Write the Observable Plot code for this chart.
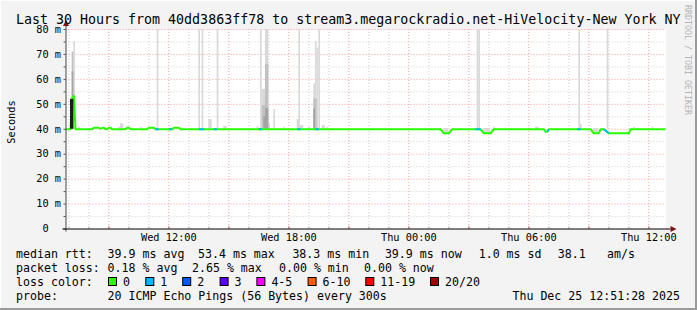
<!DOCTYPE html>
<html><head><meta charset="utf-8">
<script src="https://cdn.jsdelivr.net/npm/d3@7"></script>
<script src="https://cdn.jsdelivr.net/npm/@observablehq/plot@0.6"></script>
<style>
html,body{margin:0;padding:0;background:#f3f3f3;}
#wrap{position:relative;width:697px;height:310px;overflow:hidden;}
#wrap svg{display:block;}
</style></head><body><div id="wrap"></div>
<script>
// ---------- data ----------
const titleText = "Last 30 Hours from 40dd3863ff78 to stream3.megarockradio.net-HiVelocity-New York NY";
const yAxisTitle = "Seconds";
const watermark = "RRDTOOL / TOBI OETIKER";
const rangeStart = "Wed 06:51:28";
const rangeEnd = "Thu 12:51:28";
const xLabelTimes = ["Wed 12:00", "Wed 18:00", "Thu 00:00", "Thu 06:00", "Thu 12:00"];
const yLabelValues = [0, 10, 20, 30, 40, 50, 60, 70, 80];
const yMinorValues = [5, 15, 25, 35, 45, 55, 65, 75];

const medianTimes = ["Wed 06:50","Wed 07:05","Wed 07:10","Wed 07:15","Wed 07:20","Wed 08:10","Wed 08:15","Wed 08:30","Wed 08:35","Wed 08:40","Wed 08:45","Wed 08:50","Wed 08:55","Wed 09:00","Wed 09:05","Wed 09:10","Wed 09:50","Wed 09:55","Wed 10:00","Wed 10:05","Wed 10:55","Wed 11:00","Wed 11:15","Wed 11:20","Wed 12:10","Wed 12:15","Wed 12:30","Wed 12:35","Thu 01:35","Thu 01:45","Thu 02:00","Thu 02:10","Thu 03:35","Thu 03:45","Thu 04:05","Thu 04:15","Thu 06:45","Thu 06:50","Thu 06:55","Thu 07:00","Thu 09:05","Thu 09:15","Thu 09:30","Thu 09:35","Thu 09:45","Thu 10:00","Thu 11:00","Thu 11:05","Thu 12:55"];
const medianValues = [40.0,40.0,52.5,53.4,40.0,40.0,40.6,40.6,40.2,40.6,40.6,40.0,40.0,40.6,40.6,40.0,40.0,40.6,40.6,40.0,40.0,40.6,40.6,40.0,40.0,40.6,40.6,40.0,40.0,38.4,38.4,40.0,40.0,38.4,38.4,40.0,40.0,39.0,39.0,40.0,40.0,38.4,38.4,40.0,40.0,38.4,38.4,40.0,40.0];

const lossStart = ["Wed 11:20","Wed 12:00","Wed 13:30","Wed 14:15","Wed 16:30","Wed 18:25","Wed 19:20","Thu 03:20","Thu 06:55","Thu 08:25","Thu 09:45"];
const lossEnd   = ["Wed 11:30","Wed 12:10","Wed 13:45","Wed 14:25","Wed 16:40","Wed 18:35","Wed 19:30","Thu 03:35","Thu 07:00","Thu 08:35","Thu 10:00"];
const lossFrom  = [40,40,40,40,40,40,40,40,39,40,40];
const lossTo    = [40,40,40,40,40,40,40,40,40,40,38.4];
const lossPings = [1,1,1,1,1,1,1,1,1,1,1];

const smokeStart = ["Wed 07:15","Wed 07:10","Wed 07:10","Wed 07:05","Wed 07:30","Wed 09:05","Wed 09:30","Wed 09:35","Wed 10:35","Wed 11:25","Wed 13:30","Wed 13:40","Wed 14:00","Wed 14:25","Wed 14:45","Wed 16:25","Wed 16:35","Wed 16:40","Wed 16:40","Wed 16:45","Wed 16:50","Wed 16:50","Wed 16:50","Wed 17:00","Wed 17:15","Wed 17:45","Wed 18:25","Wed 18:30","Wed 18:35","Wed 19:00","Wed 19:15","Wed 19:15","Wed 19:15","Wed 19:20","Wed 19:25","Wed 19:30","Wed 19:40","Wed 19:55","Thu 01:45","Thu 03:25","Thu 03:30","Thu 03:45","Thu 04:15","Thu 06:00","Thu 06:20","Thu 08:30","Thu 08:35","Thu 09:15","Thu 09:55","Thu 11:15","Thu 12:10"];
const smokeEnd   = ["Wed 07:20","Wed 07:15","Wed 07:15","Wed 07:15","Wed 07:35","Wed 09:10","Wed 09:35","Wed 09:45","Wed 10:40","Wed 11:30","Wed 13:35","Wed 13:45","Wed 14:10","Wed 14:30","Wed 14:55","Wed 16:30","Wed 16:40","Wed 16:50","Wed 16:50","Wed 16:55","Wed 17:00","Wed 17:00","Wed 17:00","Wed 17:05","Wed 17:20","Wed 17:50","Wed 18:35","Wed 18:35","Wed 18:45","Wed 19:05","Wed 19:20","Wed 19:25","Wed 19:20","Wed 19:25","Wed 19:30","Wed 19:35","Wed 19:50","Wed 20:00","Thu 02:00","Thu 03:30","Thu 03:35","Thu 04:05","Thu 04:20","Thu 06:05","Thu 06:30","Thu 08:35","Thu 08:40","Thu 09:30","Thu 10:00","Thu 11:20","Thu 12:15"];
const smokeLo    = [40,40,40,40,40,40,40,40,40,40,40,40,40,40,40,40,40,40,40,40,40,40,40,40,40,40,40,40,40,40,40,40,40,40,40,40,40,40,38.4,40,40,38.4,40,40,40,40,40,38.4,40,40,40];
const smokeHi    = [75,71,63,52,40.8,40.8,40.8,42.2,40.8,80,80,80,43.9,80,41.2,41.2,80,56,49.5,45,80,66,48.3,42.2,47.9,40.8,43.9,80,41.5,40.8,58.2,52.2,48.2,75.2,72.5,80,41.5,40.8,40.3,80,80,40.3,40.8,40.5,40.8,80,41.9,40.3,80,40.8,40.8];
const smokeShade = [0,1,2,3,0,0,0,0,0,0,0,0,0,0,0,0,0,0,1,2,0,1,2,0,0,0,0,0,0,0,0,1,2,0,0,0,0,0,0,0,0,0,0,0,0,0,0,0,0,0,0];

const statLabels = ["median rtt:", "packet loss:", "loss color:", "probe:"];
const rttTexts = ["39.9 ms avg", "53.4 ms max", "38.3 ms min", "39.9 ms now", "1.0 ms sd", "38.1", "am/s"];
const lossTexts = ["0.18 % avg", "2.65 % max", "0.00 % min", "0.00 % now"];
const lossColorLabels = ["0", "1", "2", "3", "4-5", "6-10", "11-19", "20/20"];
const lossColors = ["#26ff00", "#00b8ff", "#0059ff", "#5e00ff", "#ff00ff", "#ff5e00", "#ff0000", "#a10000"];
const probeText = "20 ICMP Echo Pings (56 Bytes) every 300s";
const stampText = "Thu Dec 25 12:51:28 2025";

// ---------- helpers ----------
function T(s) {
  const [d, hms] = s.split(" ");
  const [h, m, sec] = hms.split(":").map(Number);
  return new Date(Date.UTC(2025, 11, d === "Wed" ? 24 : 25, h, m, sec || 0));
}
const start = T(rangeStart), end = T(rangeEnd);
const shadeFill = ["#d9d9d9", "#c1c1c1", "#a3a3a3", "#1c1c1c"];
const MONO = "DejaVu Sans Mono";

const median = medianTimes.map((s, i) => ({t: T(s), v: medianValues[i]}));
const loss = lossStart.map((s, i) => ({t1: T(s), t2: T(lossEnd[i]), v1: lossFrom[i], v2: lossTo[i], n: lossPings[i]}));
const smoke = smokeStart.map((s, i) => ({t1: T(s), t2: T(smokeEnd[i]), lo: smokeLo[i], hi: smokeHi[i], shade: smokeShade[i]}))
  .sort((a, b) => a.shade - b.shade);
const smokeLight = smoke.filter(d => d.shade < 3);
const smokeDense = smoke.filter(d => d.shade === 3);
const hourTicks = d3.utcHour.range(start, end);
const majorTicks = d3.utcHour.every(3).range(start, end);
const minorTicks = hourTicks.filter(d => d.getUTCHours() % 3 !== 0);

const plot = Plot.plot({
  width: 697, height: 310,
  marginLeft: 65.5, marginRight: 31.5, marginTop: 29, marginBottom: 81.5,
  style: {background: "#f3f3f3", fontFamily: MONO, fontSize: "10.3px", color: "#000", overflow: "visible"},
  x: {type: "utc", domain: [start, end], label: null},
  y: {domain: [0, 80], label: null},
  marks: [
    Plot.frame({fill: "white", stroke: null}),
    Plot.ruleX(minorTicks, {stroke: "#cfcfcf", strokeDasharray: "1,2"}),
    Plot.ruleY(yMinorValues, {stroke: "#cfcfcf", strokeDasharray: "1,2"}),
    Plot.ruleX(majorTicks, {stroke: "#f29a9a", strokeDasharray: "1,2"}),
    Plot.ruleY(yLabelValues.filter(v => v > 0), {stroke: "#f29a9a", strokeDasharray: "1,2"}),
    Plot.rect(smokeLight, {x1: "t1", x2: "t2", y1: "lo", y2: "hi", fill: d => shadeFill[d.shade], clip: true}),
    Plot.line(median, {x: "t", y: "v", stroke: lossColors[0], strokeWidth: 2, clip: true}),
    Plot.rect(smokeDense, {x1: "t1", x2: "t2", y1: "lo", y2: "hi", fill: d => shadeFill[d.shade], clip: true}),
    Plot.link(loss, {x1: "t1", x2: "t2", y1: "v1", y2: "v2", stroke: d => lossColors[d.n], strokeWidth: 2}),
    Plot.axisX(hourTicks, {tickSize: -2, tickFormat: () => "", stroke: "#b0b0b0"}),
    Plot.axisX(majorTicks, {tickSize: -2, tickFormat: () => "", stroke: "#e06060"}),
    Plot.axisX(xLabelTimes.map(T), {tickSize: 0, tickPadding: 5, tickFormat: d3.utcFormat("%a %H:%M"), fontSize: 10.3, label: null}),
    Plot.axisY(yMinorValues.concat(yLabelValues), {tickSize: 2, tickFormat: () => "", stroke: "#555"}),
    Plot.axisY(yLabelValues, {tickSize: 0, tickPadding: 5, tickFormat: d => d === 0 ? "0\u00a0\u00a0" : d + "\u00a0m", fontSize: 10.3, label: null})
  ]
});
document.getElementById("wrap").appendChild(plot);

// ---------- decorations in the same svg, positioned from the plot scales ----------
const svg = d3.select(plot);
const xs = plot.scale("x"), ys = plot.scale("y");
const x0 = xs.apply(start), x1 = xs.apply(end), y0 = ys.apply(0), yTop = ys.apply(80);
const AX = "#000", ARROW = "#7f1010";
svg.append("line").attr("x1", x0 + 0.5).attr("x2", x0 + 0.5).attr("y1", y0 + 3).attr("y2", yTop - 4).attr("stroke", "#444");
svg.append("line").attr("x1", x0 - 3).attr("x2", x1 + 5).attr("y1", y0 + 0.5).attr("y2", y0 + 0.5).attr("stroke", AX);
svg.append("path").attr("d", `M${x0 - 2.5},${yTop - 3}L${x0 + 3.5},${yTop - 3}L${x0 + 0.5},${yTop - 9}Z`).attr("fill", ARROW);
svg.append("path").attr("d", `M${x1 + 5},${y0 - 2.5}L${x1 + 5},${y0 + 3.5}L${x1 + 11},${y0 + 0.5}Z`).attr("fill", ARROW);

function txt(x, y, s, size, opts = {}) {
  const el = svg.append("text").attr("x", x).attr("y", y).attr("font-family", MONO)
    .attr("font-size", size).attr("fill", opts.fill || "#000").attr("xml:space", "preserve")
    .attr("text-anchor", opts.anchor || "start")
    .style("white-space", "pre").text(s);
  if (opts.transform) el.attr("transform", opts.transform);
  return el;
}
// title
txt(16, 23.5, titleText, 13.3);
// y axis title
txt(0, 0, yAxisTitle, 10.3, {anchor: "middle", transform: "translate(14.5,122) rotate(-90)"});
// watermark
txt(0, 0, watermark, 8.3, {fill: "#b4b4b4", transform: "translate(685,5) rotate(90)"});

// legend
const LF = 11.6;
const rowY = [258, 272, 286, 300];
const colX = 107.6;
statLabels.forEach((s, i) => txt(16, rowY[i], s, LF));
const rttX = [107.6, 198, 292.4, 384.9, 478.7, 557.8, 607.1];
rttTexts.forEach((s, i) => txt(rttX[i], rowY[0], s, LF));
const lossX = [107.6, 192, 279, 364];
lossTexts.forEach((s, i) => txt(lossX[i], rowY[1], s, LF));
const boxX = [108, 145.3, 182.2, 219.6, 256.4, 307.6, 365.3, 430];
lossColorLabels.forEach((s, i) => {
  svg.append("rect").attr("x", boxX[i] + 0.5).attr("y", rowY[2] - 8.5).attr("width", 8).attr("height", 8)
    .attr("fill", lossColors[i]).attr("stroke", "#000").attr("stroke-width", 1);
  txt(boxX[i] + 15, rowY[2], s, LF);
});
txt(colX, rowY[3], probeText, LF);
txt(680, rowY[3], stampText, LF, {anchor: "end"});

// image frame
svg.append("rect").attr("x", 0.5).attr("y", 0.5).attr("width", 695).attr("height", 308)
  .attr("fill", "none").attr("stroke", "#ffffff");
svg.append("line").attr("x1", 696).attr("x2", 696).attr("y1", 0).attr("y2", 310).attr("stroke", "#9a9a9a").attr("stroke-width", 2);
svg.append("line").attr("x1", 0).attr("x2", 697).attr("y1", 309).attr("y2", 309).attr("stroke", "#9a9a9a").attr("stroke-width", 2);
</script></body></html>
